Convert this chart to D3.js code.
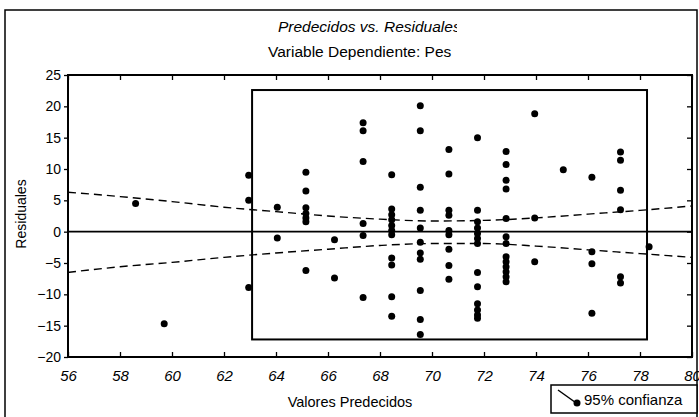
<!DOCTYPE html>
<html>
<head>
<meta charset="utf-8">
<script src="https://cdn.jsdelivr.net/npm/d3@7"></script>
<style>
  html, body { margin: 0; padding: 0; background: #fff; }
  svg { display: block; }
  text { font-family: "Liberation Sans", Arial, sans-serif; fill: #000; }
</style>
</head>
<body>
<svg id="chart" width="699" height="417"></svg>
<script>
// Predicted values (x) and residuals (y), one entry per observation
const predicted = [
  58.6,
  59.7,
  62.95, 62.95, 62.95,
  64.05, 64.05,
  65.15, 65.15, 65.15, 65.15, 65.15, 65.15, 65.15,
  66.25, 66.25,
  67.35, 67.35, 67.35, 67.35, 67.35, 67.35,
  68.45, 68.45, 68.45, 68.45, 68.45, 68.45, 68.45, 68.45, 68.45, 68.45, 68.45,
  69.55, 69.55, 69.55, 69.55, 69.55, 69.55, 69.55, 69.55, 69.55, 69.55, 69.55,
  70.65, 70.65, 70.65, 70.65, 70.65, 70.65, 70.65, 70.65, 70.65,
  71.75, 71.75, 71.75, 71.75, 71.75, 71.75, 71.75, 71.75, 71.75, 71.75, 71.75, 71.75, 71.75,
  72.85, 72.85, 72.85, 72.85, 72.85, 72.85, 72.85, 72.85, 72.85, 72.85, 72.85, 72.85, 72.85,
  73.95, 73.95, 73.95,
  75.05,
  76.15, 76.15, 76.15, 76.15,
  77.25, 77.25, 77.25, 77.25, 77.25, 77.25,
  78.35
];
const residuals = [
  4.5,
  -14.7,
  9.0, 5.0, -8.9,
  3.9, -1.0,
  9.5, 6.5, 3.8, 2.9, 2.2, 1.6, -6.2,
  -1.3, -7.4,
  17.4, 16.1, 11.2, 1.3, -0.6, -10.5,
  9.1, 3.6, 2.7, 1.9, 1.0, 0.2, -0.5, -4.2, -5.3, -10.4, -13.5,
  20.1, 16.1, 7.1, 3.4, 0.6, -1.7, -3.4, -4.4, -9.4, -14.0, -16.4,
  13.1, 9.2, 3.4, 2.6, 0.2, -0.5, -2.8, -5.4, -7.6,
  15.0, 3.4, 1.6, 0.6, -0.3, -1.1, -1.9, -6.5, -8.8, -11.5, -12.5, -13.3, -13.8,
  12.8, 10.7, 8.2, 6.8, 2.1, -0.8, -1.9, -4.0, -4.8, -5.6, -6.4, -7.2, -8.0,
  18.8, 2.2, -4.8,
  9.9,
  8.7, -3.2, -5.1, -13.0,
  12.7, 11.4, 6.6, 3.5, -7.2, -8.2,
  -2.4
];

// 95% confidence band around zero
const bandX     = [56, 58, 60, 62, 64, 66, 68, 70, 72, 74, 76, 78, 80];
const bandUpper = [6.3, 5.6, 4.8, 3.9, 3.2, 2.5, 2.0, 1.7, 1.8, 2.2, 2.8, 3.4, 4.1];
const bandLower = [-6.5, -5.6, -4.9, -4.1, -3.4, -2.8, -2.2, -1.9, -1.9, -2.3, -2.9, -3.5, -4.1];

// Tick labels
const xTicks = [56, 58, 60, 62, 64, 66, 68, 70, 72, 74, 76, 78, 80];
const yTicks = [-20, -15, -10, -5, 0, 5, 10, 15, 20, 25];

// Highlight rectangle (data units): x range and y range
const boxX = [63.08, 78.27];
const boxY = [-17.2, 22.6];

const svg = d3.select("#chart");

const x = d3.scaleLinear().domain([56, 80]).range([68, 692]);
const y = d3.scaleLinear().domain([-20, 25]).range([357, 75]);

// Outer frame of the figure
svg.append("rect")
  .attr("x", 5).attr("y", 10).attr("width", 692).attr("height", 430)
  .attr("fill", "none").attr("stroke", "#000").attr("stroke-width", 1.5);

// Titles (clipped on the right)
svg.append("clipPath").attr("id", "titleClip")
  .append("rect").attr("x", 0).attr("y", 0).attr("width", 457).attr("height", 70);
const titles = svg.append("g").attr("clip-path", "url(#titleClip)");
titles.append("text")
  .attr("x", 278).attr("y", 32)
  .style("font-size", "15.5px").style("font-style", "italic")
  .text("Predecidos vs. Residuales");
titles.append("text")
  .attr("x", 268).attr("y", 57)
  .style("font-size", "15.5px")
  .text("Variable Dependiente: Pes");

// Axes
const styleAxis = g => {
  g.select(".domain").remove();
  g.selectAll(".tick line").attr("stroke", "#000").attr("stroke-width", 1.3);
};

svg.append("g")
  .attr("transform", `translate(0,${y(-20)})`)
  .call(d3.axisBottom(x).tickValues(xTicks).tickSizeInner(-5).tickSizeOuter(0).tickPadding(13))
  .call(styleAxis)
  .call(g => g.selectAll(".tick text")
    .style("font-size", "15px").style("font-style", "italic")
    .style("font-family", "'Liberation Sans', Arial, sans-serif"));

svg.append("g")
  .attr("transform", `translate(0,${y(25)})`)
  .call(d3.axisTop(x).tickValues(xTicks).tickSizeInner(-5).tickSizeOuter(0).tickFormat(""))
  .call(styleAxis);

svg.append("g")
  .attr("transform", `translate(${x(56)},0)`)
  .call(d3.axisLeft(y).tickValues(yTicks).tickSizeInner(4).tickSizeOuter(0).tickPadding(3))
  .call(styleAxis)
  .call(g => g.selectAll(".tick text")
    .style("font-size", "14px")
    .style("font-family", "'Liberation Sans', Arial, sans-serif"));

svg.append("g")
  .attr("transform", `translate(${x(80)},0)`)
  .call(d3.axisRight(y).tickValues(yTicks).tickSizeInner(-5).tickSizeOuter(0).tickFormat(""))
  .call(styleAxis);

// Plot frame
svg.append("rect")
  .attr("x", x(56)).attr("y", y(25))
  .attr("width", x(80) - x(56)).attr("height", y(-20) - y(25))
  .attr("fill", "none").attr("stroke", "#000").attr("stroke-width", 2);

// Zero reference line
svg.append("line")
  .attr("x1", x(56)).attr("x2", x(80))
  .attr("y1", y(0)).attr("y2", y(0))
  .attr("stroke", "#000").attr("stroke-width", 1.6);

// Confidence band (dashed)
const bandLine = vals => d3.line()
  .x((d, i) => x(bandX[i]))
  .y((d, i) => y(vals[i]))
  .curve(d3.curveMonotoneX)(vals);
[bandUpper, bandLower].forEach(vals => {
  svg.append("path")
    .attr("d", bandLine(vals))
    .attr("fill", "none").attr("stroke", "#000")
    .attr("stroke-width", 1.4).attr("stroke-dasharray", "8,5");
});

// Highlight rectangle
svg.append("rect")
  .attr("x", x(boxX[0])).attr("y", y(boxY[1]))
  .attr("width", x(boxX[1]) - x(boxX[0])).attr("height", y(boxY[0]) - y(boxY[1]))
  .attr("fill", "none").attr("stroke", "#000").attr("stroke-width", 2);

// Residual points
svg.append("g").selectAll("circle")
  .data(predicted)
  .join("circle")
  .attr("cx", d => x(d))
  .attr("cy", (d, i) => y(residuals[i]))
  .attr("r", 3.5)
  .attr("fill", "#000");

// Axis titles
svg.append("text")
  .attr("transform", "translate(26,214) rotate(-90)")
  .attr("text-anchor", "middle")
  .style("font-size", "14px")
  .text("Residuales");

svg.append("text")
  .attr("x", 350).attr("y", 407)
  .attr("text-anchor", "middle")
  .style("font-size", "14.5px")
  .text("Valores Predecidos");

// Legend
const legend = svg.append("g");
legend.append("rect")
  .attr("x", 551).attr("y", 385).attr("width", 146).attr("height", 28)
  .attr("fill", "#fff").attr("stroke", "#000").attr("stroke-width", 1.5);
legend.append("line")
  .attr("x1", 558).attr("y1", 390).attr("x2", 579).attr("y2", 405)
  .attr("stroke", "#000").attr("stroke-width", 1.5);
legend.append("circle")
  .attr("cx", 577).attr("cy", 403).attr("r", 3.5).attr("fill", "#000");
legend.append("text")
  .attr("x", 584).attr("y", 404.5)
  .style("font-size", "15px")
  .text("95% confianza");
</script>
</body>
</html>
